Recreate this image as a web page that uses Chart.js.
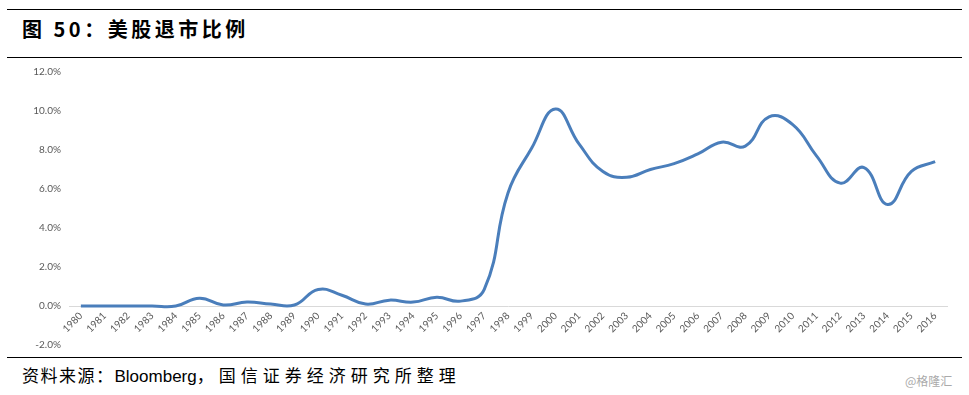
<!DOCTYPE html>
<html>
<head>
<meta charset="utf-8">
<script src="https://cdn.jsdelivr.net/npm/chart.js@4/dist/chart.umd.min.js"></script>
<style>
  html, body { margin: 0; padding: 0; background: #fff; }
  #wrap { position: relative; width: 969px; height: 395px; overflow: hidden; background: #fff; }
  .rule { position: absolute; left: 7px; width: 955px; height: 1px; background: #000; }
  #title { position: absolute; left: 22px; top: 15px; font-family: "Noto Sans CJK SC", sans-serif; font-weight: 700; font-size: 20px; line-height: 28px; letter-spacing: 3.5px; color: #000; white-space: nowrap; }
  #source { position: absolute; left: 22px; top: 364px; font-family: "Noto Sans CJK SC", sans-serif; font-size: 17px; line-height: 22px; color: #000; white-space: nowrap; }
  #source .a { letter-spacing: 1.5px; }
  #source .b { font-family: "Liberation Sans", Arial, sans-serif; font-size: 17px; }
  #source .c { letter-spacing: 5px; }
  #mark { position: absolute; left: 905px; top: 373px; font-family: "Noto Sans CJK SC", sans-serif; font-size: 12px; line-height: 16px; color: #aaa; white-space: nowrap; }
  #cv { position: absolute; left: 0; top: 58px; }
</style>
</head>
<body>
<div id="wrap">
  <div class="rule" style="top:9px"></div>
  <div id="title">图 50：美股退市比例</div>
  <div class="rule" style="top:57px"></div>
  <canvas id="cv" width="969" height="301"></canvas>
  <div class="rule" style="top:357px"></div>
  <div id="source"><span class="a">资料来源：</span><span class="b">Bloomberg</span><span class="c">，国信证券经济研究所整理</span></div>
  <div id="mark">@格隆汇</div>
</div>
<script>
const years = ["1980","1981","1982","1983","1984","1985","1986","1987","1988","1989","1990","1991","1992","1993","1994","1995","1996","1997","1998","1999","2000","2001","2002","2003","2004","2005","2006","2007","2008","2009","2010","2011","2012","2013","2014","2015","2016"];
const delistRatio = [0.0,0.0,0.0,0.0,0.0,0.4,0.05,0.2,0.1,0.05,0.85,0.55,0.1,0.3,0.2,0.45,0.25,0.85,5.8,8.1,10.1,8.3,6.9,6.6,7.0,7.3,7.8,8.4,8.2,9.7,9.3,7.7,6.3,7.1,5.2,6.9,7.4];
const yTicks = [-2,0,2,4,6,8,10,12];

const tickFont = { family: "Lato, 'Liberation Sans', sans-serif", size: 10 };
new Chart(document.getElementById('cv'), {
  type: 'line',
  data: {
    labels: years,
    datasets: [{
      data: delistRatio,
      borderColor: '#4a7ebb',
      borderWidth: 3,
      pointRadius: 0,
      tension: 0.45,
      fill: false
    }]
  },
  options: {
    responsive: false,
    animation: false,
    layout: { padding: { left: 0, right: 22, top: 6, bottom: 0 } },
    plugins: { legend: { display: false }, tooltip: { enabled: false } },
    scales: {
      x: {
        position: { y: 0 },
        offset: true,
        grid: { display: false, drawTicks: false },
        border: { display: true, color: '#d9d9d9', width: 1 },
        ticks: { color: '#595959', font: tickFont, minRotation: 45, maxRotation: 45, autoSkip: false, padding: 4 }
      },
      y: {
        min: -2, max: 12,
        afterBuildTicks: (s) => { s.ticks = yTicks.map(v => ({ value: v })); },
        afterFit: (s) => { s.width = 69; },
        grid: { display: false, drawTicks: false },
        border: { display: false },
        ticks: { color: '#595959', font: tickFont, padding: 8, callback: (v) => v.toFixed(1) + '%' }
      }
    }
  }
});
</script>
</body>
</html>
